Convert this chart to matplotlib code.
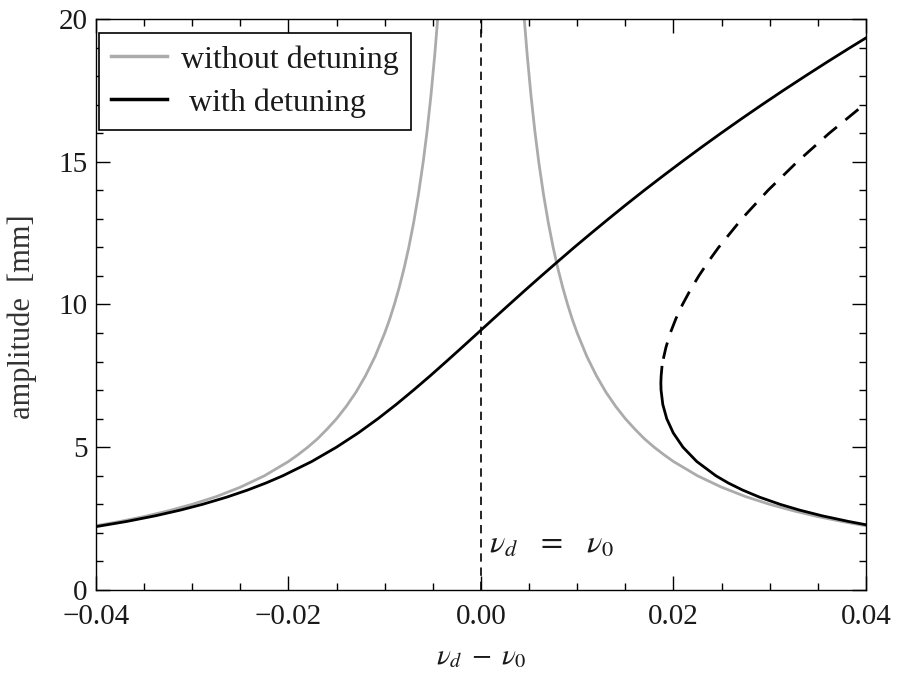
import matplotlib
matplotlib.use('Agg')
import matplotlib.pyplot as plt
from matplotlib.lines import Line2D
from matplotlib.ticker import MultipleLocator

plt.rcParams['font.family'] = 'Liberation Serif'
plt.rcParams['mathtext.fontset'] = 'stix'

# resonance curve without detuning, left and right of nu_d = nu_0
free_left_x = [-0.040, -0.0375, -0.035, -0.0325, -0.030, -0.0275, -0.025,
               -0.0225, -0.020, -0.019, -0.018, -0.017, -0.016, -0.015,
               -0.014, -0.013, -0.012, -0.011, -0.010, -0.0095, -0.009,
               -0.0085, -0.008, -0.0075, -0.007, -0.0065, -0.006, -0.0056,
               -0.0052, -0.0048, -0.0045, -0.0043]
free_left_amp = [2.25, 2.40, 2.57, 2.77, 3.00, 3.27, 3.60, 4.00, 4.50, 4.74,
                 5.00, 5.29, 5.63, 6.00, 6.43, 6.92, 7.50, 8.18, 9.00, 9.47,
                 10.00, 10.59, 11.25, 12.00, 12.86, 13.85, 15.00, 16.07,
                 17.31, 18.75, 20.00, 20.93]
free_right_x = [0.0043, 0.0045, 0.0048, 0.0052, 0.0056, 0.006, 0.0065, 0.007,
                0.0075, 0.008, 0.0085, 0.009, 0.0095, 0.010, 0.011, 0.012,
                0.013, 0.014, 0.015, 0.016, 0.017, 0.018, 0.019, 0.020,
                0.0225, 0.025, 0.0275, 0.030, 0.0325, 0.035, 0.0375, 0.040]
free_right_amp = [20.93, 20.00, 18.75, 17.31, 16.07, 15.00, 13.85, 12.86,
                  12.00, 11.25, 10.59, 10.00, 9.47, 9.00, 8.18, 7.50, 6.92,
                  6.43, 6.00, 5.63, 5.29, 5.00, 4.74, 4.50, 4.00, 3.60, 3.27,
                  3.00, 2.77, 2.57, 2.40, 2.25]

# with detuning: upper stable branch
upper_x = [-0.04033, -0.03681, -0.03381, -0.03121, -0.02893, -0.02643,
           -0.02425, -0.02232, -0.02059, -0.01758, -0.01502, -0.01275,
           -0.0107, -0.0088, -0.00701, -0.00528, -0.00361, -0.00196,
           -0.00033, 0.0013, 0.00294, 0.00459, 0.00627, 0.00797, 0.00969,
           0.01146, 0.01326, 0.01509, 0.01697, 0.0189, 0.02087, 0.02288,
           0.02494, 0.02705, 0.02921, 0.03142, 0.03369, 0.036, 0.03837,
           0.04079]
upper_amp = [2.2, 2.4, 2.6, 2.8, 3.0, 3.25, 3.5, 3.75, 4.0, 4.5, 5.0, 5.5,
             6.0, 6.5, 7.0, 7.5, 8.0, 8.5, 9.0, 9.5, 10.0, 10.5, 11.0, 11.5,
             12.0, 12.5, 13.0, 13.5, 14.0, 14.5, 15.0, 15.5, 16.0, 16.5,
             17.0, 17.5, 18.0, 18.5, 19.0, 19.5]

# lower stable branch up to the turning point
lower_x = [0.04149, 0.03976, 0.03819, 0.03542, 0.03308, 0.03108, 0.02895,
           0.02718, 0.02568, 0.02441, 0.02242, 0.02099, 0.01998, 0.0193,
           0.01889, 0.01871, 0.01869, 0.01872, 0.0188]
lower_amp = [2.2, 2.3, 2.4, 2.6, 2.8, 3.0, 3.25, 3.5, 3.75, 4.0, 4.5, 5.0,
             5.5, 6.0, 6.5, 7.0, 7.25, 7.5, 7.8]

# unstable middle branch
unstable_x = [0.01895, 0.01922, 0.01967, 0.02025, 0.02094, 0.02174, 0.02263,
              0.02362, 0.02469, 0.0271, 0.02983, 0.03287, 0.03619, 0.0398,
              0.04018]
unstable_amp = [8.1, 8.5, 9.0, 9.5, 10.0, 10.5, 11.0, 11.5, 12.0, 13.0, 14.0,
                15.0, 16.0, 17.0, 17.1]

xtick_vals = [-0.04, -0.02, 0.0, 0.02, 0.04]
xtick_text = ['\u22120.04', '\u22120.02', '0.00', '0.02', '0.04']

gray = '#ababab'
ink = '#1a1a1a'

fig = plt.figure(figsize=(9.08, 6.83), dpi=100)
ax = fig.add_axes([0.1057, 0.1362, 0.8480, 0.8360])

ax.plot(free_left_x, free_left_amp, color=gray, lw=2.0)
ax.plot(free_right_x, free_right_amp, color=gray, lw=2.0)
ax.plot(upper_x, upper_amp, color='black', lw=2.0)
ax.plot(lower_x, lower_amp, color='black', lw=2.0)
ax.plot(unstable_x, unstable_amp, color='black', lw=2.0, dashes=(6, 4))
ax.axvline(0, color='black', lw=1.2, dashes=(5, 3.5))

ax.text(0.0008, 1.3, r'$\nu_d\;\;\;=\;\;\;\nu_0$', fontsize=23,
        va='baseline', color=ink)

ax.set_xlim(-0.04, 0.04)
ax.set_ylim(0, 20)
ax.set_xticks(xtick_vals)
ax.set_xticklabels(xtick_text)
ax.xaxis.set_minor_locator(MultipleLocator(0.005))
ax.yaxis.set_major_locator(MultipleLocator(5))
ax.yaxis.set_minor_locator(MultipleLocator(1))
ax.tick_params(which='both', direction='in', top=True, right=True,
               labelsize=21, width=1.0, colors='black', labelcolor=ink)
ax.tick_params(which='major', length=10)
ax.tick_params(which='minor', length=5)
ax.tick_params(axis='x', which='major', pad=10)
ax.tick_params(axis='y', which='major', pad=6)
for s in ax.spines.values():
    s.set_linewidth(1.0)

ax.set_xlabel(r'$\nu_d\;-\;\nu_0$', fontsize=21, color=ink)
ax.xaxis.set_label_coords(0.5, -0.095)
ax.set_ylabel('amplitude  [mm]', fontsize=22, color='#333333')
ax.yaxis.set_label_coords(-0.077, 0.478)

handles = [Line2D([], [], color=gray, lw=2.5),
           Line2D([], [], color='black', lw=2.5)]
leg = ax.legend(handles, ['without detuning', ' with detuning'],
                loc='upper left', bbox_to_anchor=(99 / 908, 1 - 33 / 683),
                bbox_transform=fig.transFigure, borderaxespad=0,
                fontsize=23, frameon=True, fancybox=False, framealpha=1,
                edgecolor='black', handlelength=1.75, handletextpad=0.45,
                labelspacing=0.42, borderpad=0.38, labelcolor=ink)
leg.get_frame().set_linewidth(1.2)

fig.savefig('out.png', dpi=100)
